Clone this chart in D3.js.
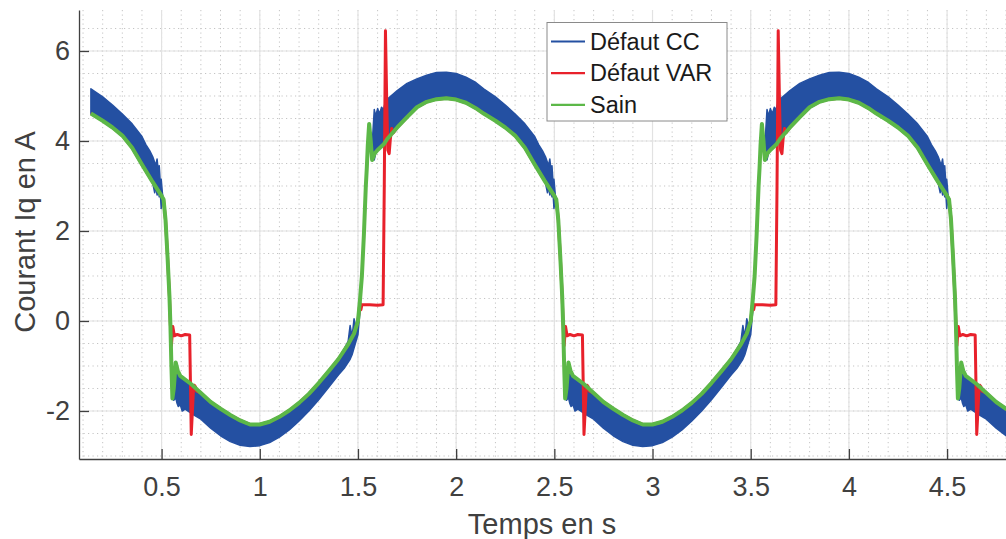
<!DOCTYPE html>
<html lang="fr">
<head>
<meta charset="UTF-8">
<title>Courant Iq en A</title>
<script src="https://cdnjs.cloudflare.com/ajax/libs/d3/7.8.5/d3.min.js"></script>
<style>
  body { margin: 0; background: #fff; }
  svg { display: block; font-family: "Liberation Sans", Arial, sans-serif; }
</style>
</head>
<body>
<svg width="1006" height="539"></svg>
<script>
    // ---- data ----
    const xTicks = [0.5, 1, 1.5, 2, 2.5, 3, 3.5, 4, 4.5];
    const yTicks = [-2, 0, 2, 4, 6];
    const seriesNames = ["Défaut CC", "Défaut VAR", "Sain"];

    // Sain (green)
    const sainT = [
        0.14,0.20,0.25,0.30,0.35,0.40,0.45,0.50,0.51,0.52,0.53,0.54,0.545,0.55,0.555,0.562,0.572,0.582,0.595,0.65,
        0.70,0.75,0.80,0.85,0.90,0.95,1.00,1.05,1.10,1.15,1.20,1.25,1.30,1.35,1.40,1.45,1.48,1.50,1.51,1.52,
        1.53,1.54,1.545,1.55,1.557,1.565,1.572,1.585,1.60,1.63,1.65,1.70,1.75,1.80,1.85,1.90,1.95,2.00,2.05,2.10,
        2.14,2.20,2.25,2.30,2.35,2.40,2.45,2.50,2.51,2.52,2.53,2.54,2.545,2.55,2.555,2.562,2.572,2.582,2.595,2.65,
        2.70,2.75,2.80,2.85,2.90,2.95,3.00,3.05,3.10,3.15,3.20,3.25,3.30,3.35,3.40,3.45,3.48,3.50,3.51,3.52,
        3.53,3.54,3.545,3.55,3.557,3.565,3.572,3.585,3.60,3.63,3.65,3.70,3.75,3.80,3.85,3.90,3.95,4.00,4.05,4.10,
        4.14,4.20,4.25,4.30,4.35,4.40,4.45,4.50,4.51,4.52,4.53,4.54,4.545,4.55,4.555,4.562,4.572,4.582,4.595,4.65,
        4.70,4.75,4.80,4.85
    ];
    const sainV = [
        4.61,4.45,4.30,4.12,3.85,3.48,3.12,2.78,2.70,2.25,1.45,0.55,-0.10,-1.00,-1.72,-1.50,-0.92,-1.10,-1.22,-1.40,
        -1.60,-1.80,-1.95,-2.09,-2.21,-2.30,-2.30,-2.24,-2.13,-1.99,-1.82,-1.62,-1.38,-1.12,-0.85,-0.52,-0.28,0.00,0.45,1.00,
        1.90,3.00,3.40,3.90,4.38,4.00,3.58,3.72,3.80,3.92,4.05,4.30,4.53,4.75,4.87,4.93,4.95,4.92,4.85,4.73,
        4.61,4.45,4.30,4.12,3.85,3.48,3.12,2.78,2.70,2.25,1.45,0.55,-0.10,-1.00,-1.72,-1.50,-0.92,-1.10,-1.22,-1.40,
        -1.60,-1.80,-1.95,-2.09,-2.21,-2.30,-2.30,-2.24,-2.13,-1.99,-1.82,-1.62,-1.38,-1.12,-0.85,-0.52,-0.28,0.00,0.45,1.00,
        1.90,3.00,3.40,3.90,4.38,4.00,3.58,3.72,3.80,3.92,4.05,4.30,4.53,4.75,4.87,4.93,4.95,4.92,4.85,4.73,
        4.61,4.45,4.30,4.12,3.85,3.48,3.12,2.78,2.70,2.25,1.45,0.55,-0.10,-1.00,-1.72,-1.50,-0.92,-1.10,-1.22,-1.40,
        -1.60,-1.80,-1.95,-2.09
    ];

    // Défaut VAR (red)
    const varT = [
        0.14,0.20,0.25,0.30,0.35,0.40,0.45,0.50,0.51,0.52,0.53,0.54,0.545,0.550,0.557,0.565,0.58,0.60,0.62,0.643,
        0.647,0.651,0.657,0.662,0.667,0.672,0.678,0.70,0.75,0.80,0.85,0.90,0.95,1.00,1.05,1.10,1.15,1.20,1.25,1.30,
        1.35,1.40,1.45,1.48,1.50,1.51,1.515,1.52,1.56,1.60,1.628,1.634,1.640,1.646,1.652,1.659,1.665,1.672,1.68,1.70,
        1.75,1.80,1.85,1.90,1.95,2.00,2.05,2.10,
        2.14,2.20,2.25,2.30,2.35,2.40,2.45,2.50,2.51,2.52,2.53,2.54,2.545,2.550,2.557,2.565,2.58,2.60,2.62,2.643,
        2.647,2.651,2.657,2.662,2.667,2.672,2.678,2.70,2.75,2.80,2.85,2.90,2.95,3.00,3.05,3.10,3.15,3.20,3.25,3.30,
        3.35,3.40,3.45,3.48,3.50,3.51,3.515,3.52,3.56,3.60,3.628,3.634,3.640,3.646,3.652,3.659,3.665,3.672,3.68,3.70,
        3.75,3.80,3.85,3.90,3.95,4.00,4.05,4.10,
        4.14,4.20,4.25,4.30,4.35,4.40,4.45,4.50,4.51,4.52,4.53,4.54,4.545,4.550,4.557,4.565,4.58,4.60,4.62,4.643,
        4.647,4.651,4.657,4.662,4.667,4.672,4.678,4.70,4.75,4.80,4.85
    ];
    const varV = [
        4.61,4.45,4.30,4.12,3.85,3.48,3.12,2.78,2.70,2.25,1.45,0.55,-0.10,-0.55,-0.12,-0.33,-0.30,-0.33,-0.30,-0.31,
        -1.40,-2.52,-2.00,-1.55,-1.43,-1.46,-1.56,-1.60,-1.80,-1.95,-2.09,-2.21,-2.30,-2.30,-2.24,-2.13,-1.99,-1.82,-1.62,-1.38,
        -1.12,-0.85,-0.52,-0.28,0.00,0.40,0.25,0.36,0.36,0.35,0.36,3.00,6.45,5.00,3.80,3.72,4.05,4.28,4.18,4.30,
        4.53,4.75,4.87,4.93,4.95,4.92,4.85,4.73,
        4.61,4.45,4.30,4.12,3.85,3.48,3.12,2.78,2.70,2.25,1.45,0.55,-0.10,-0.55,-0.12,-0.33,-0.30,-0.33,-0.30,-0.31,
        -1.40,-2.52,-2.00,-1.55,-1.43,-1.46,-1.56,-1.60,-1.80,-1.95,-2.09,-2.21,-2.30,-2.30,-2.24,-2.13,-1.99,-1.82,-1.62,-1.38,
        -1.12,-0.85,-0.52,-0.28,0.00,0.40,0.25,0.36,0.36,0.35,0.36,3.00,6.45,5.00,3.80,3.72,4.05,4.28,4.18,4.30,
        4.53,4.75,4.87,4.93,4.95,4.92,4.85,4.73,
        4.61,4.45,4.30,4.12,3.85,3.48,3.12,2.78,2.70,2.25,1.45,0.55,-0.10,-0.55,-0.12,-0.33,-0.30,-0.33,-0.30,-0.31,
        -1.40,-2.52,-2.00,-1.55,-1.43,-1.46,-1.56,-1.60,-1.80,-1.95,-2.09
    ];

    // Défaut CC (blue): fast ripple, kept as its upper / lower envelope
    const ccT = [
        0.14,0.20,0.25,0.30,0.35,0.40,0.42,0.44,0.455,0.465,0.47,0.477,0.483,0.488,0.493,0.498,0.505,0.51,0.52,0.53,
        0.54,0.545,0.55,0.555,0.562,0.572,0.578,0.585,0.595,0.605,0.62,0.65,0.70,0.75,0.80,0.85,0.90,0.95,1.00,1.05,
        1.10,1.15,1.20,1.25,1.30,1.35,1.40,1.43,1.45,1.46,1.47,1.48,1.49,1.50,1.51,1.52,1.53,1.54,1.545,1.55,
        1.557,1.565,1.572,1.583,1.59,1.60,1.61,1.62,1.63,1.64,1.65,1.70,1.75,1.80,1.85,1.90,1.95,2.00,2.05,2.10,
        2.14,2.20,2.25,2.30,2.35,2.40,2.42,2.44,2.455,2.465,2.47,2.477,2.483,2.488,2.493,2.498,2.505,2.51,2.52,2.53,
        2.54,2.545,2.55,2.555,2.562,2.572,2.578,2.585,2.595,2.605,2.62,2.65,2.70,2.75,2.80,2.85,2.90,2.95,3.00,3.05,
        3.10,3.15,3.20,3.25,3.30,3.35,3.40,3.43,3.45,3.46,3.47,3.48,3.49,3.50,3.51,3.52,3.53,3.54,3.545,3.55,
        3.557,3.565,3.572,3.583,3.59,3.60,3.61,3.62,3.63,3.64,3.65,3.70,3.75,3.80,3.85,3.90,3.95,4.00,4.05,4.10,
        4.14,4.20,4.25,4.30,4.35,4.40,4.42,4.44,4.455,4.465,4.47,4.477,4.483,4.488,4.493,4.498,4.505,4.51,4.52,4.53,
        4.54,4.545,4.55,4.555,4.562,4.572,4.578,4.585,4.595,4.605,4.62,4.65,4.70,4.75,4.80,4.85
    ];
    const ccHigh = [
        5.16,4.98,4.80,4.60,4.38,4.10,3.92,3.78,3.65,3.52,3.45,3.60,3.35,3.45,3.10,3.15,2.80,2.70,2.25,1.45,
        0.55,-0.10,-1.00,-1.72,-1.50,-0.92,-1.05,-1.10,-1.22,-1.26,-1.31,-1.40,-1.60,-1.80,-1.95,-2.09,-2.21,-2.30,-2.30,-2.24,
        -2.13,-1.99,-1.82,-1.62,-1.38,-1.12,-0.85,-0.62,-0.45,-0.10,-0.35,0.05,-0.15,0.10,0.45,1.00,1.90,3.00,3.40,3.90,
        4.38,4.10,3.90,4.70,4.55,4.72,4.60,4.75,4.70,4.88,4.93,5.12,5.28,5.38,5.46,5.52,5.53,5.50,5.42,5.30,
        5.16,4.98,4.80,4.60,4.38,4.10,3.92,3.78,3.65,3.52,3.45,3.60,3.35,3.45,3.10,3.15,2.80,2.70,2.25,1.45,
        0.55,-0.10,-1.00,-1.72,-1.50,-0.92,-1.05,-1.10,-1.22,-1.26,-1.31,-1.40,-1.60,-1.80,-1.95,-2.09,-2.21,-2.30,-2.30,-2.24,
        -2.13,-1.99,-1.82,-1.62,-1.38,-1.12,-0.85,-0.62,-0.45,-0.10,-0.35,0.05,-0.15,0.10,0.45,1.00,1.90,3.00,3.40,3.90,
        4.38,4.10,3.90,4.70,4.55,4.72,4.60,4.75,4.70,4.88,4.93,5.12,5.28,5.38,5.46,5.52,5.53,5.50,5.42,5.30,
        5.16,4.98,4.80,4.60,4.38,4.10,3.92,3.78,3.65,3.52,3.45,3.60,3.35,3.45,3.10,3.15,2.80,2.70,2.25,1.45,
        0.55,-0.10,-1.00,-1.72,-1.50,-0.92,-1.05,-1.10,-1.22,-1.26,-1.31,-1.40,-1.60,-1.80,-1.95,-2.09
    ];
    const ccLow = [
        4.61,4.45,4.30,4.12,3.85,3.48,3.33,3.18,3.06,2.85,3.00,2.80,2.92,2.76,2.88,2.50,2.74,2.70,2.25,1.45,
        0.55,-0.10,-1.00,-1.72,-1.76,-1.70,-1.82,-1.90,-1.86,-2.00,-1.96,-2.05,-2.18,-2.38,-2.55,-2.68,-2.76,-2.79,-2.77,-2.70,
        -2.58,-2.42,-2.22,-2.00,-1.75,-1.48,-1.20,-1.05,-0.92,-0.85,-0.75,-0.60,-0.45,-0.30,0.20,1.00,1.90,3.00,3.40,3.90,
        4.38,4.00,3.58,3.58,3.72,3.80,3.84,3.88,3.92,3.98,4.05,4.30,4.53,4.75,4.87,4.93,4.95,4.92,4.85,4.73,
        4.61,4.45,4.30,4.12,3.85,3.48,3.33,3.18,3.06,2.85,3.00,2.80,2.92,2.76,2.88,2.50,2.74,2.70,2.25,1.45,
        0.55,-0.10,-1.00,-1.72,-1.76,-1.70,-1.82,-1.90,-1.86,-2.00,-1.96,-2.05,-2.18,-2.38,-2.55,-2.68,-2.76,-2.79,-2.77,-2.70,
        -2.58,-2.42,-2.22,-2.00,-1.75,-1.48,-1.20,-1.05,-0.92,-0.85,-0.75,-0.60,-0.45,-0.30,0.20,1.00,1.90,3.00,3.40,3.90,
        4.38,4.00,3.58,3.58,3.72,3.80,3.84,3.88,3.92,3.98,4.05,4.30,4.53,4.75,4.87,4.93,4.95,4.92,4.85,4.73,
        4.61,4.45,4.30,4.12,3.85,3.48,3.33,3.18,3.06,2.85,3.00,2.80,2.92,2.76,2.88,2.50,2.74,2.70,2.25,1.45,
        0.55,-0.10,-1.00,-1.72,-1.76,-1.70,-1.82,-1.90,-1.86,-2.00,-1.96,-2.05,-2.18,-2.38,-2.55,-2.68
    ];

    const colors = { cc: "#2450a2", var: "#e8212b", sain: "#5cb848" };
    const axisColor = "#404040";

    // ---- layout ----
    const svg = d3.select("svg");
    const m = { left: 79, top: 10, right: 1006, bottom: 459 };

    const x = d3.scaleLinear().domain([0.0794, 4.8]).range([m.left, m.right]);
    const y = d3.scaleLinear().domain([-3.067, 6.911]).range([m.bottom, m.top]);

    svg.append("defs").append("clipPath").attr("id", "plot")
        .append("rect").attr("x", m.left).attr("y", m.top)
        .attr("width", m.right - m.left).attr("height", m.bottom - m.top);

    // grid: dotted minor, solid major
    const grid = svg.append("g");
    grid.selectAll(".gx").data(d3.range(1, 49).map(i => i / 10)).enter().append("line")
        .attr("x1", d => x(d)).attr("x2", d => x(d)).attr("y1", m.top).attr("y2", m.bottom)
        .attr("stroke", "#c4c4c4").attr("stroke-width", 1).attr("stroke-dasharray", "1.2,3.3");
    grid.selectAll(".gy").data(d3.range(-6, 14).map(i => i / 2)).enter().append("line")
        .attr("x1", m.left).attr("x2", m.right).attr("y1", d => y(d)).attr("y2", d => y(d))
        .attr("stroke", "#c4c4c4").attr("stroke-width", 1).attr("stroke-dasharray", "1.2,3.3");
    grid.selectAll(".mx").data(xTicks).enter().append("line")
        .attr("x1", d => x(d)).attr("x2", d => x(d)).attr("y1", m.top).attr("y2", m.bottom)
        .attr("stroke", "#e2e2e2").attr("stroke-width", 1.2);
    grid.selectAll(".my").data(yTicks).enter().append("line")
        .attr("x1", m.left).attr("x2", m.right).attr("y1", d => y(d)).attr("y2", d => y(d))
        .attr("stroke", "#e2e2e2").attr("stroke-width", 1.2);

    // ---- series ----
    const plot = svg.append("g").attr("clip-path", "url(#plot)");

    const ccData = d3.range(ccT.length).map(i => [ccT[i], ccHigh[i], ccLow[i]]);
    const band = d3.area().x(d => x(d[0])).y0(d => y(d[2])).y1(d => y(d[1]));
    plot.append("path").datum(ccData)
        .attr("d", band)
        .attr("fill", colors.cc)
        .attr("stroke", colors.cc)
        .attr("stroke-width", 1.5)
        .attr("stroke-linejoin", "round");

    const line = d3.line().x(d => x(d[0])).y(d => y(d[1]));
    plot.append("path").datum(d3.zip(varT, varV))
        .attr("d", line)
        .attr("fill", "none")
        .attr("stroke", colors.var)
        .attr("stroke-width", 3)
        .attr("stroke-linejoin", "round");
    plot.append("path").datum(d3.zip(sainT, sainV))
        .attr("d", line)
        .attr("fill", "none")
        .attr("stroke", colors.sain)
        .attr("stroke-width", 4)
        .attr("stroke-linejoin", "round");

    // ---- axes ----
    const xAxis = svg.append("g").attr("transform", `translate(0,${m.bottom})`)
        .call(d3.axisBottom(x).tickValues(xTicks).tickFormat(d => String(d))
            .tickSize(-10).tickSizeOuter(0).tickPadding(18));
    const yAxis = svg.append("g").attr("transform", `translate(${m.left},0)`)
        .call(d3.axisLeft(y).tickValues(yTicks).tickFormat(d => String(d))
            .tickSize(-10).tickSizeOuter(0).tickPadding(9));

    [xAxis, yAxis].forEach(a => {
        a.select(".domain").attr("stroke", axisColor).attr("stroke-width", 1.3);
        a.selectAll(".tick line").attr("stroke", axisColor).attr("stroke-width", 1.3);
        a.selectAll(".tick text").attr("fill", axisColor)
            .style("font-size", "27px").style("font-family", "'Liberation Sans', Arial, sans-serif");
    });

    svg.append("text")
        .attr("x", 542).attr("y", 534)
        .attr("text-anchor", "middle")
        .attr("fill", axisColor)
        .style("font-size", "29px")
        .text("Temps en s");

    svg.append("text")
        .attr("transform", "translate(35,232) rotate(-90)")
        .attr("text-anchor", "middle")
        .attr("fill", axisColor)
        .style("font-size", "29px")
        .text("Courant Iq en A");

    // ---- legend ----
    const legend = svg.append("g");
    legend.append("rect")
        .attr("x", 547).attr("y", 22.5).attr("width", 180).attr("height", 98.5)
        .attr("fill", "#fff").attr("stroke", "#8a8a8a").attr("stroke-width", 1);
    const rows = legend.selectAll(".row").data(seriesNames).enter().append("g")
        .attr("transform", (d, i) => `translate(0,${41.5 + i * 31.7})`);
    rows.append("line")
        .attr("x1", 551).attr("x2", 585).attr("y1", 0).attr("y2", 0)
        .attr("stroke", (d, i) => [colors.cc, colors.var, colors.sain][i])
        .attr("stroke-width", 2.2);
    rows.append("text")
        .attr("x", 590).attr("y", 8)
        .attr("fill", "#1a1a1a")
        .style("font-size", "23.5px")
        .text(d => d);
</script>
</body>
</html>
